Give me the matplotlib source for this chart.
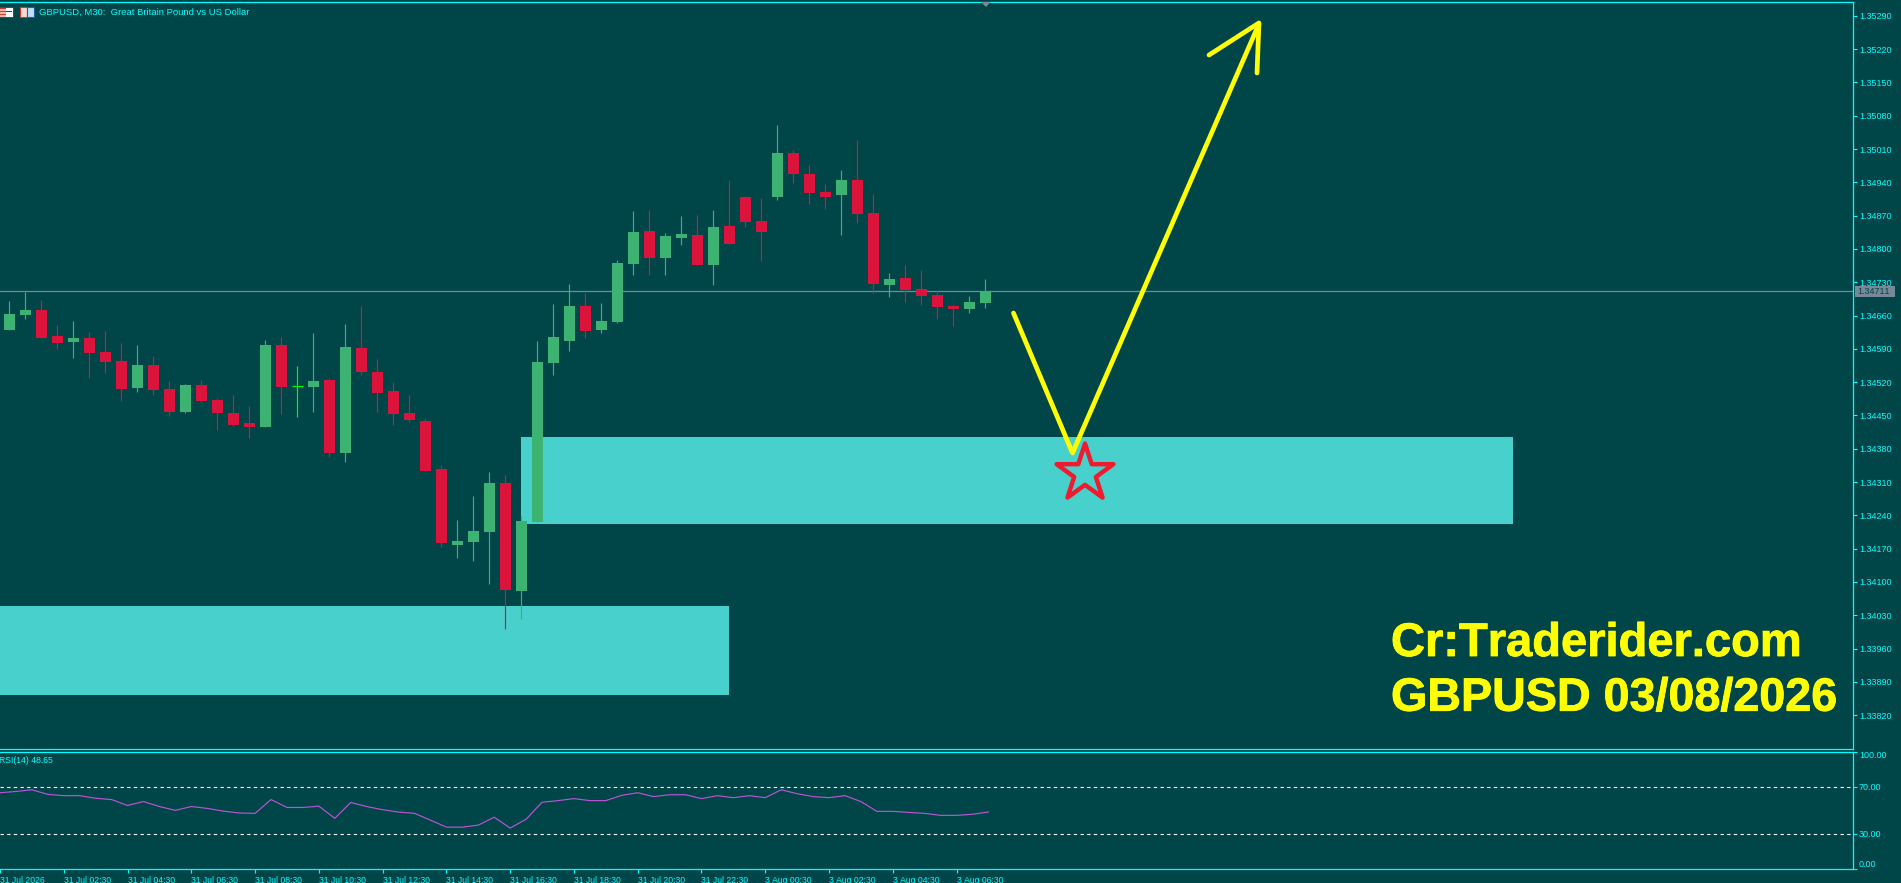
import matplotlib
matplotlib.use("Agg")
import matplotlib.pyplot as plt
import matplotlib.patheffects as pe
from matplotlib.patches import Rectangle, Polygon

plt.rcParams["text.kerning_factor"] = 6

W, H = 1901, 883
BG = "#004547"
CYAN = "#00FFFF"
GREEN = "#3CB371"
RED = "#DC143C"
DOJI = "#00FF00"
ZONE = "#48D1CC"
GREY = "#778899"
YELLOW = "#FFFF00"
STAR = "#ED1C2E"
ORCHID = "#BA55D3"
FONT = "Liberation Sans"

opens = [1.34630,1.34661,1.34672,1.34617,1.34605,1.34613,1.34584,1.34565,1.34508,1.34556,
         1.34506,1.34458,1.34515,1.34483,1.34456,1.34435,1.34426,1.34598,1.34512,1.34510,
         1.34525,1.34372,1.34592,1.34542,1.34502,1.34456,1.34439,1.34338,1.34178,1.34183,
         1.34206,1.34307,1.34081,1.34226,1.34561,1.34607,1.34680,1.34630,1.34647,1.34769,
         1.34838,1.34781,1.34823,1.34830,1.34767,1.34848,1.34909,1.34859,1.34909,1.35002,
         1.34958,1.34920,1.34913,1.34945,1.34876,1.34725,1.34739,1.34716,1.34703,1.34680,
         1.34674,1.34687]
highs = [1.34691,1.34710,1.34693,1.34640,1.34649,1.34626,1.34628,1.34603,1.34598,1.34575,
         1.34523,1.34517,1.34525,1.34487,1.34493,1.34470,1.34609,1.34615,1.34554,1.34624,
         1.34529,1.34643,1.34680,1.34569,1.34521,1.34493,1.34445,1.34346,1.34231,1.34281,
         1.34332,1.34325,1.34238,1.34606,1.34685,1.34727,1.34708,1.34687,1.34777,1.34880,
         1.34882,1.34834,1.34869,1.34871,1.34882,1.34945,1.34911,1.34907,1.35060,1.35008,
         1.34977,1.34937,1.34966,1.35029,1.34916,1.34750,1.34767,1.34756,1.34712,1.34683,
         1.34701,1.34737]
lows = [1.34630,1.34653,1.34613,1.34590,1.34571,1.34529,1.34540,1.34481,1.34500,1.34493,
        1.34449,1.34456,1.34479,1.34420,1.34428,1.34403,1.34426,1.34454,1.34447,1.34458,
        1.34363,1.34353,1.34535,1.34458,1.34430,1.34437,1.34334,1.34174,1.34151,1.34143,
        1.34095,1.34002,1.34023,1.34226,1.34536,1.34586,1.34613,1.34624,1.34645,1.34746,
        1.34746,1.34746,1.34809,1.34767,1.34725,1.34811,1.34846,1.34775,1.34903,1.34939,
        1.34895,1.34884,1.34830,1.34855,1.34708,1.34699,1.34689,1.34683,1.34653,1.34638,
        1.34666,1.34676]
closes = [1.34664,1.34672,1.34613,1.34603,1.34613,1.34582,1.34563,1.34506,1.34556,1.34504,
          1.34458,1.34515,1.34481,1.34456,1.34430,1.34426,1.34598,1.34510,1.34512,1.34523,
          1.34372,1.34594,1.34542,1.34498,1.34454,1.34441,1.34334,1.34181,1.34187,1.34208,
          1.34309,1.34084,1.34228,1.34562,1.34615,1.34680,1.34628,1.34649,1.34771,1.34836,
          1.34781,1.34827,1.34832,1.34767,1.34846,1.34811,1.34857,1.34836,1.35002,1.34958,
          1.34918,1.34909,1.34945,1.34874,1.34727,1.34737,1.34714,1.34701,1.34678,1.34674,
          1.34689,1.34711]
rsi_bars = list(range(-1, 62))
rsi_values = [65.0,66.1,67.5,63.6,62.5,62.5,60.3,59.2,54.2,57.5,53.3,50.0,53.3,51.7,49.4,47.8,47.5,
              59.2,52.5,52.5,53.6,43.3,56.7,53.3,50.6,48.6,47.5,41.7,35.8,35.8,37.5,44.2,35.0,
              42.5,56.9,58.3,60.0,58.3,58.3,62.8,65.0,61.7,63.3,63.3,60.0,62.5,60.8,62.5,60.8,
              67.5,64.2,61.7,60.8,62.5,57.5,49.2,49.2,48.3,47.5,45.8,45.8,46.7,48.65]

price_ticks = [1.35290,1.35220,1.35150,1.35080,1.35010,1.34940,1.34870,1.34800,1.34730,1.34660,
               1.34590,1.34520,1.34450,1.34380,1.34310,1.34240,1.34170,1.34100,1.34030,1.33960,
               1.33890,1.33820]
bid_price = 1.34711
rsi_ticks = [100, 70, 30, 0]
time_bars = [-1,3,7,11,15,19,23,27,31,35,39,43,47,51,55,59]
time_labels = ["31 Jul 2026","31 Jul 02:30","31 Jul 04:30","31 Jul 06:30","31 Jul 08:30",
               "31 Jul 10:30","31 Jul 12:30","31 Jul 14:30","31 Jul 16:30","31 Jul 18:30",
               "31 Jul 20:30","31 Jul 22:30","3 Aug 00:30","3 Aug 02:30","3 Aug 04:30","3 Aug 06:30"]
zone_bars = [(32, 94), (-1, 45)]
zone_prices = [(1.34222, 1.34405), (1.338623, 1.34050)]
path_bars = [62.76, 66.45, 78.10]
path_prices = [1.346653, 1.34371, 1.352728]
head_bars = [74.98, 78.10, 77.98]
head_prices = [1.352076, 1.35275, 1.351698]
star_bar = 67.23
star_price = 1.343281


def px_rect(x0, y0, x1, y1):
    return [x0 / W, 1 - y1 / H, (x1 - x0) / W, (y1 - y0) / H]


def fig_box(x0, y0, x1, y1, **kw):
    fig.add_artist(Rectangle((x0 / W, 1 - y1 / H), (x1 - x0) / W, (y1 - y0) / H,
                             transform=fig.transFigure, **kw))


fig = plt.figure(figsize=(W / 100, H / 100), dpi=100, facecolor=BG)
ax = fig.add_axes(px_rect(0, 1.5, 1852.7, 749.3), facecolor=BG)
rx = fig.add_axes(px_rect(0, 751.5, 1852.7, 869.3), facecolor=BG)

for a in (ax, rx):
    a.set_xlim(-0.583, 115.21)
    a.spines["left"].set_visible(False)
    for s in ("top", "right", "bottom"):
        a.spines[s].set_color(CYAN)
        a.spines[s].set_linewidth(0.9)
ax.set_ylim(1.337482, 1.353201)
rx.set_ylim(0, 100)

# zones
for (b0, b1), (p0, p1) in zip(zone_bars, zone_prices):
    ax.add_patch(Rectangle((b0, p0), b1 - b0, p1 - p0, facecolor=ZONE, edgecolor="none", zorder=1))

ax.axhline(bid_price, color=GREY, lw=0.9, zorder=2)

# candles
for i, (o, h, l, c) in enumerate(zip(opens, highs, lows, closes)):
    col = GREEN if c > o else RED if c < o else DOJI
    ax.vlines(i, l, h, color=col, lw=0.85, zorder=3)
    if c == o:
        ax.hlines(o, i - 0.34, i + 0.34, color=col, lw=0.85, zorder=3)
    else:
        ax.bar(i, abs(c - o), bottom=min(o, c), width=0.6875, color=col, linewidth=0, zorder=3)

# drawn trade path
ax.plot(path_bars, path_prices, color=YELLOW, lw=3.4, solid_capstyle="round", solid_joinstyle="round", zorder=5)
ax.plot(head_bars, head_prices, color=YELLOW, lw=3.4, solid_capstyle="round", solid_joinstyle="round", zorder=5)
ax.scatter([star_bar], [star_price], marker="*", s=1850, facecolor="none", edgecolor=STAR, linewidth=3.2, zorder=6)

# price axis
ax.yaxis.tick_right()
ax.set_yticks(price_ticks)
ax.set_yticklabels([f"{p:.5f}" for p in price_ticks], fontfamily=FONT, fontsize=6.5, color=CYAN)
ax.tick_params(axis="y", length=3, width=0.8, color=CYAN, pad=1.5)
ax.set_xticks([])

# bid label
trans = ax.get_yaxis_transform()
ax.add_patch(Rectangle((1.0012, bid_price - 0.000118), 0.0215, 0.000236, transform=trans,
                       facecolor=GREY, edgecolor="none", clip_on=False, zorder=7))
ax.text(1.0025, bid_price, f"{bid_price:.5f}", transform=trans, fontfamily=FONT, fontsize=6.5,
        color=BG, va="center", ha="left", clip_on=False, zorder=8)

# header
fig.text(39 / W, 1 - 12.5 / H, "GBPUSD, M30:  Great Britain Pound vs US Dollar", fontfamily=FONT,
         fontsize=6.8, color=CYAN, va="center", ha="left")
fig_box(0, 7, 13, 17, facecolor="#FFFFFF", edgecolor="#1B3F8B", lw=0.6)
fig_box(0, 7.5, 5.5, 16.5, facecolor="#F0B8A8", edgecolor="none")
for yy in (9, 12, 15):
    fig_box(0, yy - 1, 5.5, yy, facecolor="#D83A2E", edgecolor="none")
    fig_box(6, yy - 0.5, 12, yy + 0.3, facecolor="#1B3F8B", edgecolor="none")
fig_box(19.5, 7, 26.5, 17, facecolor="#F5DCD0", edgecolor="#D83A2E", lw=0.8)
fig_box(27, 7, 33.5, 17, facecolor="#BFE0F5", edgecolor="#1B5FA8", lw=0.8)
fig.add_artist(Polygon([(981 / W, 1 - 2 / H), (990.5 / W, 1 - 2 / H), (986 / W, 1 - 7 / H)], closed=True,
                       transform=fig.transFigure, facecolor=GREY, edgecolor="none"))

# watermark text
for y_txt, txt, size in ((656, "Cr:Traderider.com", 33.9), (710.7, "GBPUSD 03/08/2026", 33.6)):
    t = fig.text(1391 / W, 1 - y_txt / H, txt, fontfamily=FONT, fontweight="bold", fontsize=size,
                 color=YELLOW, va="baseline", ha="left")
    t.set_path_effects([pe.withStroke(linewidth=0.6, foreground=YELLOW)])

# RSI pane
rx.plot(rsi_bars, rsi_values, color=ORCHID, lw=0.85, zorder=3)
for lev in (70, 30):
    rx.axhline(lev, color="white", lw=0.8, linestyle=(0, (3, 3)), zorder=2)
rx.yaxis.tick_right()
rx.set_yticks(rsi_ticks)
rx.set_yticklabels([f"{v:.2f}" for v in rsi_ticks], fontfamily=FONT, fontsize=6.5, color=CYAN)
rx.get_yticklabels()[0].set_va("top")
rx.get_yticklabels()[3].set_va("bottom")
rx.tick_params(axis="y", length=3, width=0.8, color=CYAN, pad=1.5)
rx.set_xticks(time_bars)
rx.set_xticklabels(time_labels, fontfamily=FONT, fontsize=6.2, color=CYAN, ha="left")
rx.tick_params(axis="x", length=3, width=0.8, color=CYAN, pad=2)
fig.text(-1 / W, 1 - 760.7 / H, f"RSI(14) {rsi_values[-1]:.2f}", fontfamily=FONT, fontsize=6.2, color=CYAN,
         va="center", ha="left")

fig.savefig("out.png", dpi=100, facecolor=BG)
